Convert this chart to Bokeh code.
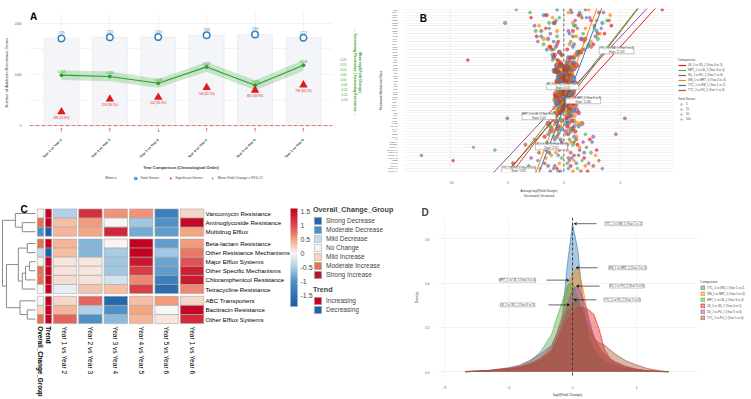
import math
from bokeh.plotting import figure
from bokeh.models import (Range1d, LinearAxis, FixedTicker, Span, Label, Legend, LegendItem,
                          ColumnDataSource, ColorBar, LinearColorMapper, PrintfTickFormatter,
                          Arrow, VeeHead, Title)
from bokeh.layouts import row, column
from bokeh.transform import transform
from bokeh.embed import file_html
from bokeh.resources import INLINE
from bokeh.core.properties import value

FONT = "Liberation Sans"

# ======================= DATA =======================
# ---- Panel A ----
a_comparisons = ["Year 1 vs Year 2", "Year 2 vs Year 3", "Year 3 vs Year 4",
                 "Year 4 vs Year 5", "Year 5 vs Year 6", "Year 1 vs Year 6"]
a_total_genes = [1705, 1725, 1730, 1768, 1780, 1717]
a_sig_genes = [269, 519, 552, 744, 692, 794]
a_mean_fc = [0.043, 0.030, -0.040, 0.127, -0.060, 0.143]
a_ci_half = [0.050, 0.050, 0.045, 0.050, 0.050, 0.055]
a_trend = ["up", "up", "down", "up", "up", "up"]
a_fc_ticks = [-0.20, -0.15, -0.10, -0.05, 0.00, 0.05, 0.10, 0.15, 0.20]
a_count_ticks = [0, 1000, 2000]

# ---- Panel B ----
b_comparisons = ["TYC_1 vs WB_1 (Year 1 vs 2)", "WB_1 vs MRT_1 (Year 2 vs 3)",
                 "MRT_1 vs LB_1 (Year 3 vs 4)", "LB_1 vs SD_1 (Year 4 vs 5)",
                 "SD_1 vs FU_1 (Year 5 vs 6)", "TYC_1 vs FU_1 (Year 1 vs 6)"]
b_slopes = [11.163, 11.481, 5.421, 4.701, 4.572, 5.562]
b_intercepts = [24.6, 28.4, 26.7, 24.0, 28.4, 25.5]
b_categories = ["aac(3)-IV", "aac(6')-Ib", "aadA1", "aadA2", "aadE", "ant(6)-Ia", "aph(3')-III",
                "aph(6)-Id", "blaCTX-M", "blaOXA", "blaTEM", "blaSHV", "cfr", "catA1", "catB3",
                "cmlA", "dfrA1", "dfrA12", "ermB", "ermC", "ermF", "lnuA", "lnuB", "mecA", "mefA",
                "mphA", "msrA", "oqxA", "oqxB", "qnrS", "sul1", "sul2", "sul3", "tetA", "tetB",
                "tetC", "tetG", "tetL", "tetM", "tetO", "tetQ", "tetW", "tetX", "vanA", "vanB",
                "vanC", "vanR", "vanS", "bacA", "bcrA", "acrA", "acrB", "tolC", "mdtE", "mdtF",
                "emrB", "emrE", "macB", "marA", "soxS", "optrA", "floR"]
b_total_genes = [2, 1, 3, 2, 1, 2, 1, 3, 2, 1, 4, 2, 3, 5, 2,
                 8, 12, 6, 15, 10, 3, 20, 9, 30, 14, 25, 40, 18, 60, 35, 90, 22, 45, 70, 28, 100,
                 50, 16, 38, 65, 24, 12, 2,
                 9, 6, 11, 4, 5, 3, 2, 6, 3, 2, 4, 1, 3, 5, 2, 1, 3, 2, 1]
# one row per category (bottom to top); columns follow b_comparisons
b_avg_log2fc = [
    [-1.2, 0.8, -0.5, 2.1, -0.3, 1.5], [0.4, -2.1, 1.2, -0.6, 3.4, -0.9],
    [-0.8, 1.9, -3.1, 0.6, -1.4, 2.6], [1.1, -0.4, 0.3, -4.5, 2.2, -1.7],
    [-2.3, 0.9, 1.6, -9.8, 0.5, 3.1], [0.7, -1.6, -0.2, 1.8, -2.9, 0.4],
    [-0.5, 2.8, -1.1, 0.9, -12.6, 1.3], [1.8, -0.7, 2.4, -1.3, 0.6, -2.2],
    [-1.6, 0.3, -6.1, 2.9, 1.4, -0.4], [0.2, 1.4, -8.0, -0.8, -1.9, 2.0],
    [-0.9, -1.2, 0.8, 1.2, 0.3, -3.4], [2.5, 0.6, -1.5, -0.2, 1.7, 0.9],
    [-0.3, -2.6, 0.5, 2.3, -0.8, 1.1], [0.9, 1.1, -0.9, -1.7, 2.6, -0.6],
    [-1.4, 0.2, 1.9, 0.4, -0.5, 4.6], [0.6, -0.9, -0.4, 1.0, 0.2, -1.2],
    [-0.2, 0.5, 0.7, -0.6, -1.1, 0.8], [1.3, -0.3, -1.2, 0.3, 0.9, -0.5],
    [-0.7, 1.2, 0.2, -1.4, 0.4, 1.6], [0.3, -0.6, 0.9, 0.7, -0.7, -0.2],
    [-1.1, 0.4, -0.3, 0.2, -5.0, 5.4], [0.5, 0.9, -0.7, -0.9, 0.6, 0.3],
    [-0.4, -0.2, 0.4, 1.3, -0.3, -0.8], [0.8, 0.1, -0.1, -0.4, 1.1, 0.5],
    [-0.1, -0.8, 0.6, 0.5, -0.2, -0.3], [0.2, 0.6, -0.5, -0.1, 0.3, 1.0],
    [-0.6, -0.1, 0.1, 0.8, -0.6, -0.1], [0.4, 0.3, -0.8, -0.3, 0.5, 0.2],
    [-0.3, -0.5, 0.3, 0.6, 0.1, -0.6], [0.1, 0.7, -0.2, -0.7, -0.4, 0.4],
    [-0.2, -0.3, 0.5, 0.1, 0.7, -0.2], [0.6, 0.2, -0.6, 0.4, -0.1, 0.1],
    [-0.5, -0.4, 0.2, -0.2, 0.2, 0.6], [0.3, 0.5, 0.0, 0.9, -0.5, -0.4],
    [-0.1, -0.6, 0.4, -0.5, 0.4, 0.0], [0.7, 0.1, -0.3, 0.3, -0.2, 0.3],
    [-0.4, 0.4, 0.6, -0.1, 0.6, -0.1], [0.2, -0.2, -0.4, 0.5, -0.3, 0.5],
    [-0.8, 0.6, 0.1, -0.6, 0.1, -0.7], [0.5, -0.1, 0.7, 0.2, 0.8, 0.2],
    [-0.3, 0.8, -0.6, 1.1, -0.6, -0.3], [0.9, -0.5, 0.3, -0.3, 0.3, 0.7],
    [-0.6, 0.3, -1.0, -8.5, 0.5, -0.5], [0.4, -0.9, 0.8, 0.6, -0.9, 0.9],
    [-1.0, 1.0, -0.2, -0.8, 1.2, -0.2], [1.2, -0.4, 1.3, 1.5, -0.4, 1.4],
    [-1.5, 1.6, -0.9, 0.3, 1.8, -1.1], [0.8, -1.3, 2.1, -1.2, -0.7, 2.4],
    [2.2, 0.5, -1.8, 2.6, 0.9, -0.6], [-0.9, 2.4, 0.6, -0.5, -2.3, 1.8],
    [1.6, -1.8, 3.0, 1.9, 1.5, -1.4], [-2.0, 1.1, -0.6, -2.4, 2.8, 0.8],
    [0.5, 3.2, 1.7, 3.6, -1.2, 3.0], [2.9, -0.6, -2.5, 0.8, 0.4, -2.0],
    [-1.3, 1.9, 2.7, -1.6, 3.3, 1.2], [1.0, -2.2, 0.9, 4.2, -2.6, 2.7],
    [3.4, 0.8, -1.3, -0.9, -5.2, -0.8], [-0.7, 2.9, 3.8, 2.4, 1.0, 4.0],
    [2.0, -1.0, -0.4, -2.9, 2.3, 1.6], [-1.8, 4.1, 1.5, 1.3, -1.6, -1.5],
    [1.4, 0.4, -3.0, 3.1, 0.7, 3.5], [-0.6, 2.2, -4.2, 8.7, 1.9, 0.6],
]
b_x_ticks = [-10, -5, 0, 5]
b_size_legend = [5, 25, 50, 100]

# ---- Panel C ----
c_rows = ["Vancomycin Resistance", "Aminoglycoside Resistance", "Multidrug Efflux",
          "Beta-lactam Resistance", "Other Resistance Mechanisms", "Major Efflux Systems",
          "Other Specific Mechanisms", "Chloramphenicol Resistance", "Tetracycline Resistance",
          "ABC Transporters", "Bacitracin Resistance", "Other Efflux Systems"]
c_row_cluster = [0, 0, 0, 1, 1, 1, 1, 1, 1, 2, 2, 2]
c_columns = a_comparisons
c_values = [
    [-0.45, 1.20, 0.60, 0.60, -1.30, 0.20],
    [0.35, 0.55, 0.00, -0.55, -1.00, 1.55],
    [0.40, 0.50, 1.30, -0.80, -0.90, 0.50],
    [0.40, -0.70, 0.02, 1.60, -0.90, 0.55],
    [0.35, -0.70, -0.50, 1.60, -0.55, 0.75],
    [0.10, 0.10, -0.55, 1.40, -0.85, 0.95],
    [0.12, 0.10, -0.55, 1.10, -0.90, 1.35],
    [0.15, 0.12, -0.25, 0.65, -1.30, 1.40],
    [-0.10, 0.30, 0.35, 1.10, -1.60, 0.65],
    [0.20, 0.85, -1.70, 0.35, 0.55, 0.20],
    [0.40, -0.45, -1.00, 0.50, 0.00, 1.55],
    [0.85, -1.00, -0.65, 0.40, 0.10, 1.25],
]
c_overall = ["No Change", "Moderate Increase", "Moderate Decrease", "Moderate Increase",
             "Mild Decrease", "No Change", "Moderate Increase", "Moderate Increase",
             "No Change", "No Change", "Mild Increase", "Moderate Increase"]
c_trend = ["Increasing", "Increasing", "Decreasing", "Increasing", "Decreasing", "Increasing",
           "Increasing", "Increasing", "Increasing", "Increasing", "Increasing", "Increasing"]
c_group_levels = ["Strong Decrease", "Moderate Decrease", "Mild Decrease", "No Change",
                  "Mild Increase", "Moderate Increase", "Strong Increase"]
c_trend_levels = ["Increasing", "Decreasing"]
# hierarchical clustering merges: (node a, node b, height)
c_linkage = [(1, 2, 0.40), (0, 12, 0.61), (3, 4, 0.25), (5, 6, 0.18), (15, 7, 0.30),
             (16, 8, 0.40), (14, 17, 0.52), (10, 11, 0.25), (9, 19, 0.47), (18, 20, 0.88),
             (13, 21, 1.00)]
c_scale_ticks = [-1.5, -1.0, -0.5, 0.0, 0.5, 1.0, 1.5]

# ---- Panel D ----
d_log2fc = [-6.7, -5.3, -4.0, -3.3, -2.7, -2.0, -1.3, -1.0, -0.67, -0.33, 0.0, 0.33, 0.67,
            1.0, 1.33, 1.67, 2.0, 2.33, 2.67, 3.33, 4.0, 4.67, 5.33, 6.0]
d_density = {
    "TYC_1 vs WB_1 (Year 1 vs 2)": [0.000, 0.003, 0.010, 0.015, 0.025, 0.045, 0.085, 0.13, 0.22, 0.48, 0.67, 0.55,
                                    0.30, 0.15, 0.09, 0.06, 0.045, 0.032, 0.024, 0.012, 0.006, 0.003, 0.001, 0.000],
    "WB_1 vs MRT_1 (Year 2 vs 3)": [0.000, 0.004, 0.012, 0.020, 0.035, 0.060, 0.115, 0.17, 0.25, 0.37, 0.45, 0.47,
                                    0.37, 0.24, 0.15, 0.10, 0.07, 0.05, 0.035, 0.02, 0.01, 0.004, 0.001, 0.000],
    "MRT_1 vs LB_1 (Year 3 vs 4)": [0.000, 0.005, 0.015, 0.025, 0.045, 0.09, 0.17, 0.24, 0.31, 0.39, 0.40, 0.33,
                                    0.24, 0.16, 0.10, 0.07, 0.05, 0.035, 0.025, 0.012, 0.006, 0.003, 0.001, 0.000],
    "LB_1 vs SD_1 (Year 4 vs 5)": [0.000, 0.004, 0.012, 0.020, 0.030, 0.050, 0.090, 0.13, 0.18, 0.23, 0.27, 0.29,
                                   0.29, 0.28, 0.26, 0.19, 0.10, 0.06, 0.04, 0.02, 0.01, 0.005, 0.002, 0.000],
    "SD_1 vs FU_1 (Year 5 vs 6)": [0.001, 0.006, 0.018, 0.030, 0.050, 0.080, 0.12, 0.17, 0.23, 0.30, 0.37, 0.39,
                                   0.33, 0.24, 0.16, 0.11, 0.08, 0.06, 0.045, 0.025, 0.012, 0.005, 0.002, 0.000],
    "TYC_1 vs FU_1 (Year 1 vs 6)": [0.001, 0.005, 0.015, 0.022, 0.035, 0.060, 0.10, 0.15, 0.20, 0.27, 0.31, 0.32,
                                    0.27, 0.20, 0.15, 0.13, 0.12, 0.10, 0.08, 0.05, 0.03, 0.015, 0.006, 0.000],
}
d_x_ticks = [-8, -4, 0, 4]
d_y_ticks = [0.0, 0.2, 0.4, 0.6]

# ======================= STYLE =======================
SET1 = {"TYC_1 vs WB_1 (Year 1 vs 2)": "#377eb8", "WB_1 vs MRT_1 (Year 2 vs 3)": "#ff7f00",
        "MRT_1 vs LB_1 (Year 3 vs 4)": "#4daf4a", "LB_1 vs SD_1 (Year 4 vs 5)": "#e41a1c",
        "SD_1 vs FU_1 (Year 5 vs 6)": "#984ea3", "TYC_1 vs FU_1 (Year 1 vs 6)": "#a65628"}
GRID = "#ebebeb"
TXT = "#333333"
OFF = [-100.0]   # a point outside every range: legend-only renderers need one row to draw their key


def style_axes(p, size="3px"):
    for ax in p.axis:
        ax.axis_line_color = None
        ax.major_tick_line_color = None
        ax.minor_tick_line_color = None
        ax.major_label_text_font = FONT
        ax.axis_label_text_font = FONT
        ax.major_label_text_font_size = size
        ax.major_label_text_color = "#555555"
        ax.axis_label_text_font_style = "normal"
        ax.axis_label_text_color = TXT
        ax.major_label_standoff = 2
        ax.axis_label_standoff = 3


def base_fig(w, h, xr, yr, l, r, t, b):
    p = figure(width=w, height=h, x_range=xr, y_range=yr, output_backend="svg",
               toolbar_location=None, min_border_left=l, min_border_right=r,
               min_border_top=t, min_border_bottom=b, frame_align=False)
    p.outline_line_color = None
    p.background_fill_color = "white"
    p.border_fill_color = "white"
    p.grid.grid_line_color = GRID
    p.grid.grid_line_width = 0.6
    return p


def blank_fig(w, h, l=0, r=0, t=0, b=0):
    p = figure(width=w, height=h, x_range=Range1d(0, 1), y_range=Range1d(0, 1),
               output_backend="svg", toolbar_location=None, x_axis_location=None,
               y_axis_location=None, min_border_left=l, min_border_right=r,
               min_border_top=t, min_border_bottom=b, frame_align=False)
    p.outline_line_color = None
    p.grid.visible = False
    p.background_fill_color = "white"
    p.border_fill_color = "white"
    return p


def letter_glyph(p, txt, x, y, **kw):
    p.text(x=[x], y=[y], text=[txt], text_font=value(FONT), text_font_size="10px",
           text_font_style="bold", text_color="black", text_align="left",
           text_baseline="middle", **kw)


def legend_kw(title_size, label_size, gw, gh, lh):
    return dict(title_text_font=FONT, title_text_font_size=title_size,
                title_text_font_style="normal", title_standoff=1,
                label_text_font=FONT, label_text_font_size=label_size,
                glyph_width=gw, glyph_height=gh, label_height=lh, spacing=1, padding=0,
                margin=0, label_standoff=2, background_fill_alpha=0, border_line_alpha=0)


# ======================= PANEL A =======================
xA = list(range(1, len(a_comparisons) + 1))
srcA = ColumnDataSource(dict(
    x=xA, total=a_total_genes, sig=a_sig_genes, mean=a_mean_fc,
    lo=[m - c for m, c in zip(a_mean_fc, a_ci_half)],
    hi=[m + c for m, c in zip(a_mean_fc, a_ci_half)],
    total_lbl=[str(t) for t in a_total_genes],
    sig_lbl=[f"{s} ({100 * s / t:.1f}%)" for s, t in zip(a_sig_genes, a_total_genes)],
    mean_lbl=[f"{m:.3f}" for m in a_mean_fc],
    arrow=["\u2191" if t == "up" else "\u2193" for t in a_trend],
    arrow_col=["#e31a1c" if t == "up" else "#3182bd" for t in a_trend],
    arrow_y=[-85] * len(xA),
))

pA = base_fig(375, 173, Range1d(0.34, 6.6), Range1d(-135, 2211), 28, 43, 12, 39)
pA.extra_y_ranges = {"fc": Range1d(-0.54, 0.68)}

pA.vbar(x="x", top="total", bottom=0, width=0.72, source=srcA,
        fill_color="#f3f5f9", line_color="#e2e6ed", line_width=0.6)
pA.varea(x="x", y1="lo", y2="hi", source=srcA, y_range_name="fc",
         fill_color="#4daf4a", fill_alpha=0.28)
pA.line(x="x", y="mean", source=srcA, y_range_name="fc", line_color="#2ca02c", line_width=1.1)
pA.scatter(x="x", y="mean", source=srcA, y_range_name="fc", marker="circle", size=3,
           fill_color="#2ca02c", line_color="#2ca02c")
pA.text(x="x", y="mean", text="mean_lbl", source=srcA, y_range_name="fc", y_offset=-2.5,
        text_font=value(FONT), text_font_size="3px", text_color="#2ca02c",
        text_align="center", text_baseline="bottom")
pA.scatter(x="x", y="total", source=srcA, marker="circle", size=6.5,
           fill_color="white", line_color="#3182bd", line_width=1.5)
pA.text(x="x", y="total", text="total_lbl", source=srcA, y_offset=-4.5,
        text_font=value(FONT), text_font_size="3px", text_color="#3182bd",
        text_align="center", text_baseline="bottom")
pA.scatter(x="x", y="sig", source=srcA, marker="triangle", size=8.5,
           fill_color="#e31a1c", line_color=None)
pA.text(x="x", y="sig", text="sig_lbl", source=srcA, y_offset=4,
        text_font=value(FONT), text_font_size="3px", text_color="#e31a1c",
        text_align="center", text_baseline="top")
pA.text(x="x", y="arrow_y", text="arrow", source=srcA, text_color="arrow_col",
        text_font=value("DejaVu Sans"), text_font_size="5px",
        text_align="center", text_baseline="middle")
pA.add_layout(Span(location=0, dimension="width", line_color="#e8454f",
                   line_dash="4 2", line_width=0.8))
letter_glyph(pA, "A", 0.35, 2140)

pA.xaxis.ticker = FixedTicker(ticks=xA)
pA.xaxis.major_label_overrides = {i: c for i, c in zip(xA, a_comparisons)}
pA.xaxis.major_label_orientation = math.pi / 4
pA.xaxis.axis_label = "Year Comparison (Chronological Order)"
pA.yaxis.ticker = FixedTicker(ticks=a_count_ticks, minor_ticks=[500, 1500])
pA.yaxis.axis_label = "Number of Antibiotic Resistance Genes"
pA.ygrid.minor_grid_line_color = "#f4f4f4"

axR = LinearAxis(y_range_name="fc", ticker=FixedTicker(ticks=a_fc_ticks),
                 formatter=PrintfTickFormatter(format="%.2f"),
                 axis_label="Mean log2(Fold Change)\n\u2190 Decreasing Resistance | Increasing Resistance \u2192")
pA.add_layout(axR, "right")
style_axes(pA, "3px")
pA.xaxis.major_label_text_font_size = "3.4px"
pA.xaxis.major_label_text_font_style = "bold"
pA.xaxis.major_label_text_color = TXT
pA.xaxis.major_label_standoff = 1
pA.xaxis.axis_label_standoff = 2
pA.xaxis.axis_label_text_font_size = "4px"
pA.xaxis.axis_label_text_font_style = "bold"
pA.yaxis[0].axis_label_text_font_size = "4px"
axR.major_label_text_color = "#2ca02c"
axR.axis_label_text_color = "#2ca02c"
axR.axis_label_text_font_size = "3.5px"
axR.axis_label_text_font_style = "bold"

# legend strip under panel A
pAL = blank_fig(375, 27, l=28, r=43, t=0, b=17)
la_blank = pAL.scatter(x=OFF, y=OFF, marker="circle", size=1, fill_alpha=0, line_alpha=0)
la_tot = pAL.scatter(x=OFF, y=OFF, marker="circle", size=5, fill_color="white",
                     line_color="#3182bd", line_width=1.2)
la_sig = pAL.scatter(x=OFF, y=OFF, marker="triangle", size=6, fill_color="#e31a1c", line_color=None)
la_fc = pAL.scatter(x=OFF, y=OFF, marker="diamond", size=5, fill_color="#2c7fb8", line_color=None)
legA = Legend(items=[LegendItem(label="Metrics", renderers=[la_blank]),
                     LegendItem(label="Total Genes", renderers=[la_tot]),
                     LegendItem(label="Significant Genes", renderers=[la_sig]),
                     LegendItem(label="Mean Fold Change \u00b1 95% CI", renderers=[la_fc])],
              location="center", orientation="horizontal", label_text_font=FONT,
              label_text_font_size="3.5px", glyph_width=6, glyph_height=6, label_height=6,
              padding=0, margin=0, spacing=7, label_standoff=2,
              background_fill_alpha=0, border_line_alpha=0)
pAL.add_layout(legA)

# ======================= PANEL B =======================
nB = len(b_categories)
bx, by, bc, bs = [], [], [], []
for i, rowvals in enumerate(b_avg_log2fc):
    for j, v in enumerate(rowvals):
        bx.append(v)
        by.append(i + 0.5)
        bc.append(SET1[b_comparisons[j]])
        bs.append(2.2 + 0.6 * math.sqrt(b_total_genes[i]))
srcB = ColumnDataSource(dict(x=bx, y=by, c=bc, s=bs))

pB = base_fig(298, 200, Range1d(-14.1, 9.7), Range1d(0, nB), 22, 0, 8, 28)
pB.scatter(x="x", y="y", size="s", source=srcB, marker="circle", fill_color="c",
           line_color="c", fill_alpha=0.65, line_alpha=0.9, line_width=0.4)
pB.add_layout(Span(location=0, dimension="height", line_color="#444444",
                   line_dash="3 2", line_width=0.8))
for comp, m, b in zip(b_comparisons, b_slopes, b_intercepts):
    ys = [-3.0, nB + 4.0]
    xs = [(yy - b) / m for yy in ys]
    pB.line(x=xs, y=ys, line_color=SET1[comp], line_width=1.0)

# slope labels (placement only)
b_label_pos = {"TYC_1 vs WB_1 (Year 1 vs 2)": (4.66, 46.1), "WB_1 vs MRT_1 (Year 2 vs 3)": (1.72, 27.2),
               "MRT_1 vs LB_1 (Year 3 vs 4)": (-2.2, 21.2), "LB_1 vs SD_1 (Year 4 vs 5)": (-1.1, 9.8),
               "SD_1 vs FU_1 (Year 5 vs 6)": (-0.1, 32.5), "TYC_1 vs FU_1 (Year 1 vs 6)": (-4.0, 0.9)}
for comp, m in zip(b_comparisons, b_slopes):
    lx, ly = b_label_pos[comp]
    pB.add_layout(Label(x=lx, y=ly, text=f"{comp}\nSlope: {m:.3f}", text_font=FONT,
                        text_font_size="2.6px", text_align="center", text_baseline="middle",
                        background_fill_color="white", background_fill_alpha=0.95,
                        border_line_color="#777777", border_line_width=0.4))
letter_glyph(pB, "B", -12.75, 58.2)

pB.yaxis.ticker = FixedTicker(ticks=[i + 0.5 for i in range(nB)])
pB.yaxis.major_label_overrides = {i + 0.5: c for i, c in enumerate(b_categories)}
pB.yaxis.axis_label = "Resistance Mechanism/Class"
pB.xaxis.ticker = FixedTicker(ticks=b_x_ticks)
pB.xaxis.axis_label = "Average log2(Fold Change)\n\u2190 Decreased | Increased \u2192"
style_axes(pB, "3px")
pB.yaxis.major_label_text_font_size = "2.3px"
pB.yaxis.major_label_standoff = 1
pB.yaxis.axis_label_standoff = 2
pB.yaxis.axis_label_text_font_size = "3px"
pB.xaxis.axis_label_text_font_size = "3px"
pB.ygrid.grid_line_color = "#e6e6e6"
pB.ygrid.grid_line_width = 0.5

# legend strip right of panel B
pBL = blank_fig(78, 200)
legend_order = ["LB_1 vs SD_1 (Year 4 vs 5)", "MRT_1 vs LB_1 (Year 3 vs 4)", "SD_1 vs FU_1 (Year 5 vs 6)",
                "WB_1 vs MRT_1 (Year 2 vs 3)", "TYC_1 vs WB_1 (Year 1 vs 2)", "TYC_1 vs FU_1 (Year 1 vs 6)"]
items_b1 = []
for c in legend_order:
    rr = pBL.line(x=OFF * 2, y=OFF * 2, line_color=SET1[c], line_width=1.2)
    items_b1.append(LegendItem(label=c, renderers=[rr]))
legB1 = Legend(items=items_b1, location=(5, 108), title="Comparison",
               **legend_kw("3.2px", "2.8px", 8, 4, 4))
pBL.add_layout(legB1)
items_b2 = []
for g in b_size_legend:
    rr = pBL.scatter(x=OFF, y=OFF, marker="circle", size=2.2 + 0.6 * math.sqrt(g),
                     fill_color=None, line_color="#666666", line_width=0.5)
    items_b2.append(LegendItem(label=str(g), renderers=[rr]))
legB2 = Legend(items=items_b2, location=(5, 79), title="Total Genes",
               **legend_kw("3.2px", "2.8px", 6, 4, 4))
pBL.add_layout(legB2)

# ======================= PANEL C =======================
def _rgb(h):
    h = h.lstrip("#")
    return tuple(int(h[k:k + 2], 16) for k in (0, 2, 4))


def ramp(stops, n=256):
    lo, hi = stops[0][0], stops[-1][0]
    out = []
    for k in range(n):
        v = lo + (hi - lo) * k / (n - 1)
        for (v0, c0), (v1, c1) in zip(stops[:-1], stops[1:]):
            if v0 <= v <= v1 + 1e-9:
                t = (v - v0) / (v1 - v0)
                a, b = _rgb(c0), _rgb(c1)
                out.append("#%02x%02x%02x" % tuple(round(a[q] + (b[q] - a[q]) * t) for q in range(3)))
                break
    return out


heat_palette = ramp([(-1.9, "#1d5aa5"), (-1.0, "#4f91c6"), (-0.5, "#a9cde6"), (0.0, "#f7f7f7"),
                     (0.5, "#f4a582"), (1.0, "#de4a4e"), (1.62, "#c00020")])
mapper = LinearColorMapper(palette=heat_palette, low=-1.9, high=1.62)
group_colors = dict(zip(c_group_levels, ["#2166ac", "#4a90c8", "#c6dbef", "#f4f4f4",
                                         "#fcd5bf", "#e6714f", "#b2182b"]))
trend_colors = dict(zip(c_trend_levels, ["#ca0020", "#1a63ad"]))

pC = figure(width=395, height=199, x_range=Range1d(-2.539, 13.01), y_range=Range1d(20.44, -1.43),
            output_backend="svg", toolbar_location=None, x_axis_location=None, y_axis_location=None,
            min_border_left=0, min_border_right=0, min_border_top=0, min_border_bottom=0,
            frame_align=False)
pC.outline_line_color = None
pC.grid.visible = False
pC.extra_x_ranges = {"dend": Range1d(1.0606, -10.909)}

Yrow = [r + 0.3 * g for r, g in enumerate(c_row_cluster)]
hx, hy, hv = [], [], []
for r, vals in enumerate(c_values):
    for j, v in enumerate(vals):
        hx.append(j)
        hy.append(Yrow[r])
        hv.append(v)
pC.rect(x="x", y="y", width=0.92, height=1.0, source=ColumnDataSource(dict(x=hx, y=hy, v=hv)),
        fill_color=transform("v", mapper), line_color="#a8a8a8", line_width=0.6)
pC.rect(x=[-0.965] * len(c_rows), y=Yrow, width=0.25, height=1.0,
        fill_color=[group_colors[g] for g in c_overall], line_color="#a8a8a8", line_width=0.6)
pC.rect(x=[-0.65] * len(c_rows), y=Yrow, width=0.25, height=1.0,
        fill_color=[trend_colors[t] for t in c_trend], line_color="#a8a8a8", line_width=0.6)

# dendrogram from linkage
node_y = {i: Yrow[i] for i in range(len(c_rows))}
node_h = {i: 0.0 for i in range(len(c_rows))}
sx0, sy0, sx1, sy1 = [], [], [], []
for k, (a, b, h) in enumerate(c_linkage):
    nid = len(c_rows) + k
    ya, yb = node_y[a], node_y[b]
    sx0 += [node_h[a], node_h[b], h]
    sy0 += [ya, yb, ya]
    sx1 += [h, h, h]
    sy1 += [ya, yb, yb]
    node_y[nid] = (ya + yb) / 2
    node_h[nid] = h
pC.segment(x0=sx0, y0=sy0, x1=sx1, y1=sy1, x_range_name="dend", line_color="#8a8a8a", line_width=1)

# labels
pC.text(x=list(range(len(c_columns))), y=[12.4] * len(c_columns), text=c_columns, angle=-math.pi / 2,
        text_font=value(FONT), text_font_size="6.6px", text_color="black",
        text_align="left", text_baseline="middle")
pC.text(x=[-0.965, -0.65], y=[12.4, 12.4], text=["Overall_Change_Group", "Trend"], angle=-math.pi / 2,
        text_font=value(FONT), text_font_size="6.3px", text_font_style="bold", text_color="black",
        text_align="left", text_baseline="middle")
pC.text(x=[5.53] * len(c_rows), y=Yrow, text=c_rows, text_font=value(FONT), text_font_size="6.2px",
        text_color="black", text_align="left", text_baseline="middle")
letter_glyph(pC, "C", -1.75, -0.45)

cbar = ColorBar(color_mapper=mapper, location=(290, 93), width=7, height=98, padding=0, margin=0,
                ticker=FixedTicker(ticks=c_scale_ticks), formatter=PrintfTickFormatter(format="%g"),
                major_label_text_font=FONT, major_label_text_font_size="7px", label_standoff=3,
                major_tick_line_color=None, minor_tick_line_color=None, bar_line_color=None,
                border_line_color=None, background_fill_alpha=0)
pC.add_layout(cbar)

grp_r = [pC.rect(x=OFF, y=OFF, width=1, height=1, fill_color=group_colors[g], line_color="#a8a8a8",
                 line_width=0.6) for g in c_group_levels]
legC1 = Legend(items=[LegendItem(label=g, renderers=[r]) for g, r in zip(c_group_levels, grp_r)],
               location=(313, 120), title="Overall_Change_Group", title_text_font=FONT,
               title_text_font_size="7.2px", title_text_font_style="bold", title_standoff=2,
               label_text_font=FONT, label_text_font_size="6.5px", glyph_width=9, glyph_height=9,
               label_height=9, spacing=0, padding=0, margin=0, label_standoff=4,
               background_fill_alpha=0, border_line_alpha=0)
pC.add_layout(legC1)
tr_r = [pC.rect(x=OFF, y=OFF, width=1, height=1, fill_color=trend_colors[t], line_color="#a8a8a8",
                line_width=0.6) for t in c_trend_levels]
legC2 = Legend(items=[LegendItem(label=t, renderers=[r]) for t, r in zip(c_trend_levels, tr_r)],
               location=(313, 85), title="Trend", title_text_font=FONT,
               title_text_font_size="7.2px", title_text_font_style="bold", title_standoff=2,
               label_text_font=FONT, label_text_font_size="6.5px", glyph_width=9, glyph_height=9,
               label_height=9, spacing=0, padding=0, margin=0, label_standoff=4,
               background_fill_alpha=0, border_line_alpha=0)
pC.add_layout(legC2)

# ======================= PANEL D =======================
pD = base_fig(302, 199, Range1d(-8.44, 7.81), Range1d(-0.026, 0.697), 42, 0, 17, 14)
for comp, dens in d_density.items():
    pD.varea(x=d_log2fc, y1=[0] * len(dens), y2=dens, fill_color=SET1[comp], fill_alpha=0.42)
    pD.line(x=d_log2fc, y=dens, line_color=SET1[comp], line_width=0.7, line_alpha=0.9)
pD.add_layout(Span(location=0, dimension="height", line_color="#333333",
                   line_dash="3 2", line_width=0.9))

# peak annotations (placement only)
d_ann = {"TYC_1 vs WB_1 (Year 1 vs 2)": (3.19, 0.669, 1.5, 0.10),
         "WB_1 vs MRT_1 (Year 2 vs 3)": (3.44, 0.470, 1.56, 0.22),
         "SD_1 vs FU_1 (Year 5 vs 6)": (3.40, 0.387, 1.69, 0.25),
         "TYC_1 vs FU_1 (Year 1 vs 6)": (3.10, 0.325, 1.5, 0.08),
         "MRT_1 vs LB_1 (Year 3 vs 4)": (-3.44, 0.414, -1.63, -0.22),
         "LB_1 vs SD_1 (Year 4 vs 5)": (-3.44, 0.302, -1.50, -0.19)}
for comp, (lx, ly, ax0, ax1) in d_ann.items():
    pD.add_layout(Arrow(end=VeeHead(size=2.5, line_width=0.5, fill_color="black"),
                        x_start=ax0, y_start=ly, x_end=ax1, y_end=ly,
                        line_width=0.6, line_color="black"))
    pD.add_layout(Label(x=lx, y=ly, text=comp, text_font=FONT, text_font_size="2.8px",
                        text_align="center", text_baseline="middle",
                        background_fill_color="white", border_line_color="#777777",
                        border_line_width=0.4))

pD.xaxis.ticker = FixedTicker(ticks=d_x_ticks)
pD.xaxis.axis_label = "log2(Fold Change)"
pD.yaxis.ticker = FixedTicker(ticks=d_y_ticks)
pD.yaxis.formatter = PrintfTickFormatter(format="%.1f")
pD.yaxis.axis_label = "Density"
style_axes(pD, "3px")
pD.xaxis.axis_label_standoff = 1
pD.xaxis.axis_label_text_font_size = "3.5px"
pD.yaxis.axis_label_text_font_size = "3.5px"
pD.add_layout(Title(text="D", text_font=FONT, text_font_size="10px", text_font_style="bold",
                    align="left", offset=-16, standoff=0), "above")

# legend strip right of panel D
pDL = blank_fig(54, 199)
items_d = []
for c in d_density:
    rr = pDL.rect(x=OFF, y=OFF, width=1, height=1, fill_color=SET1[c], fill_alpha=0.45,
                  line_color=SET1[c], line_width=0.6)
    items_d.append(LegendItem(label=c, renderers=[rr]))
legD = Legend(items=items_d, location=(3, 79), title="Comparison",
              **legend_kw("3.3px", "2.8px", 5, 5, 5))
pDL.add_layout(legD)

layout = column(row(column(pA, pAL), pB, pBL), row(pC, pD, pDL))
open("out.html", "w").write(file_html(layout, INLINE))
